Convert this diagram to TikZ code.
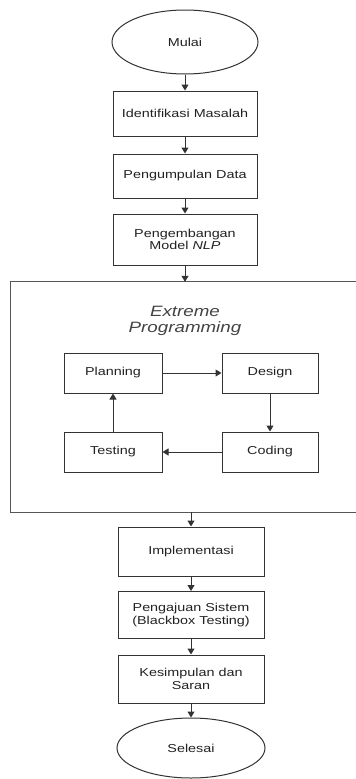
\documentclass[tikz,border=0pt]{standalone}
\usepackage{fontspec}
\setmainfont{Liberation Sans}[FakeStretch=1.25]
\usetikzlibrary{shapes.geometric,arrows.meta}
\definecolor{lineclr}{HTML}{333333}
\definecolor{frameclr}{HTML}{555555}
\definecolor{txtclr}{HTML}{222222}
\begin{document}
\begin{tikzpicture}[x=1pt,y=-1pt,
  every node/.style={text=txtclr, font=\fontsize{11.5}{12.5}\selectfont, align=center, inner sep=0pt},
  boxstyle/.style={draw=lineclr, line width=1pt, rectangle},
  ovalstyle/.style={draw=lineclr, line width=1pt, ellipse},
  arr/.style={draw=lineclr, line width=1pt, -{Triangle[width=7pt,length=6pt]}}]
\useasboundingbox (0,0) rectangle (356,779);
\clip (0,0) rectangle (356,779);
\fill[white] (0,0) rectangle (356,779);

\node[ovalstyle, minimum width=146, minimum height=64] (mulai) at (185,42) {Mulai};
\node[boxstyle, minimum width=144, minimum height=45] (a1) at (185,113.5) {Identifikasi Masalah};
\node[boxstyle, minimum width=144, minimum height=44] (a2) at (185,176) {Pengumpulan Data};
\node[boxstyle, minimum width=144, minimum height=51] (a3) at (185,239.5) {Pengembangan\\Model \textit{NLP}};

\node[rectangle, minimum width=369, minimum height=230] (xp) at (195.5,397) {};
\draw[draw=frameclr, line width=1pt] (xp.north east) -- (xp.north west) -- (xp.south west) -- (xp.south east);
\node[font=\fontsize{15}{16}\selectfont\itshape, text=txtclr!85!white] (title) at (185,321) {Extreme\\Programming};

\node[boxstyle, minimum width=98, minimum height=40] (plan) at (113,373) {Planning};
\node[boxstyle, minimum width=96, minimum height=40] (design) at (270,373) {Design};
\node[boxstyle, minimum width=98, minimum height=40] (test) at (113,452) {Testing};
\node[boxstyle, minimum width=96, minimum height=40] (code) at (270,452) {Coding};

\node[boxstyle, minimum width=146, minimum height=49] (impl) at (191,551.5) {Implementasi};
\node[boxstyle, minimum width=146, minimum height=47] (peng) at (191,615) {Pengajuan Sistem\\(Blackbox Testing)};
\node[boxstyle, minimum width=146, minimum height=48] (kes) at (191,679) {Kesimpulan dan\\Saran};
\node[ovalstyle, minimum width=148, minimum height=60] (sel) at (191,748) {Selesai};

\draw[arr] (mulai) -- (a1);
\draw[arr] (a1) -- (a2);
\draw[arr] (a2) -- (a3);
\draw[arr] (a3.south) -- (a3.south |- xp.north);
\draw[arr] (plan) -- (design);
\draw[arr] (design) -- (code);
\draw[arr] (code) -- (test);
\draw[arr] (test) -- (plan);
\draw[arr] (impl.north |- xp.south) -- (impl.north);
\draw[arr] (impl) -- (peng);
\draw[arr] (peng) -- (kes);
\draw[arr] (kes) -- (sel);
\end{tikzpicture}
\end{document}
